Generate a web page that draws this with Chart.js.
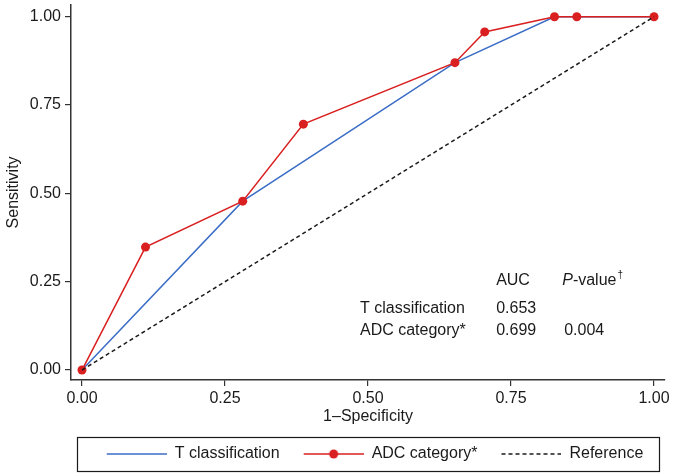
<!DOCTYPE html>
<html>
<head>
<meta charset="utf-8">
<script src="https://cdn.jsdelivr.net/npm/chart.js@4/dist/chart.umd.min.js"></script>
<style>
  html, body { margin: 0; padding: 0; background: #fff; }
</style>
</head>
<body>
<canvas id="roc" width="675" height="476"></canvas>
<script>
// ROC curves, values
const tClassX = [0, 0.281, 0.652, 0.826, 1];
const tClassY = [0, 0.478, 0.870, 1, 1];
const adcX = [0, 0.111, 0.281, 0.387, 0.652, 0.704, 0.826, 0.865, 1];
const adcY = [0, 0.348, 0.478, 0.696, 0.870, 0.957, 1, 1, 1];
const refX = [0, 1];
const refY = [0, 1];
const tickValues = [0, 0.25, 0.5, 0.75, 1];
const seriesNames = ["T classification", "ADC category*", "Reference"];
const tableHeader = ["AUC", "P", "-value", "†"];
const tableRows = [
    ["T classification", "0.653", ""],
    ["ADC category*", "0.699", "0.004"],
];

const blue = "#3b6dc6";
const red = "#d91f1f";
const dark = "#1a1a1a";
const fontFamily = "'Liberation Sans', Arial, Helvetica, sans-serif";

Chart.defaults.font.family = fontFamily;
Chart.defaults.font.size = 16;
Chart.defaults.color = dark;

function toPoints(xs, ys) {
    return xs.map((x, i) => ({ x: x, y: ys[i] }));
}

// little pictures for the legend keys
function legendKey(color, dashed, dot) {
    const c = document.createElement("canvas");
    c.width = 74;
    c.height = 16;
    const g = c.getContext("2d");
    g.strokeStyle = color;
    g.lineWidth = 1.5;
    if (dashed) g.setLineDash([4, 3]);
    g.beginPath();
    g.moveTo(14, 8);
    g.lineTo(74, 8);
    g.stroke();
    if (dot) {
        g.fillStyle = color;
        g.beginPath();
        g.arc(44, 8, 4.5, 0, Math.PI * 2);
        g.fill();
    }
    return c;
}
const legendKeys = [legendKey(blue, false, false), legendKey(red, false, true), legendKey(dark, true, false)];

const legendBox = {
    id: "legendBox",
    afterDraw(chart) {
        const a = chart.chartArea;
        const lg = chart.legend;
        const ctx = chart.ctx;
        ctx.save();
        ctx.strokeStyle = dark;
        ctx.lineWidth = 1.2;
        ctx.strokeRect(a.left + 6.5, lg.top + 1.5, a.right - a.left - 12, lg.bottom - lg.top - 2);
        ctx.restore();
    },
};

const aucTable = {
    id: "aucTable",
    afterDatasetsDraw(chart) {
        const xs = chart.scales.x;
        const ys = chart.scales.y;
        const ctx = chart.ctx;
        const colX = [0.486, 0.724, 0.843].map((v) => xs.getPixelForValue(v));
        const rowY = [0.2535, 0.1746, 0.1127].map((v) => ys.getPixelForValue(v));
        const f = "16px " + fontFamily;
        ctx.save();
        ctx.fillStyle = dark;
        ctx.textBaseline = "middle";
        ctx.textAlign = "left";
        ctx.font = f;
        ctx.fillText(tableHeader[0], colX[1], rowY[0]);
        // italic P, upright rest, small raised dagger
        let x = colX[2] - 2;
        ctx.font = "italic " + f;
        ctx.fillText(tableHeader[1], x, rowY[0]);
        x += ctx.measureText(tableHeader[1]).width;
        ctx.font = f;
        ctx.fillText(tableHeader[2], x, rowY[0]);
        x += ctx.measureText(tableHeader[2]).width + 1;
        ctx.font = "10px " + fontFamily;
        ctx.fillText(tableHeader[3], x, rowY[0] - 5);
        ctx.font = f;
        tableRows.forEach((row, i) => {
            row.forEach((txt, j) => {
                if (txt) ctx.fillText(txt, colX[j], rowY[i + 1]);
            });
        });
        ctx.restore();
    },
};

new Chart(document.getElementById("roc"), {
    type: "line",
    data: {
        datasets: [
            {
                label: seriesNames[0],
                data: toPoints(tClassX, tClassY),
                borderColor: blue,
                backgroundColor: blue,
                borderWidth: 1.5,
                pointRadius: 0,
                order: 3,
            },
            {
                label: seriesNames[1],
                data: toPoints(adcX, adcY),
                borderColor: red,
                backgroundColor: red,
                borderWidth: 1.5,
                pointRadius: 4.5,
                pointBorderWidth: 0,
                pointBackgroundColor: red,
                order: 2,
            },
            {
                label: seriesNames[2],
                data: toPoints(refX, refY),
                borderColor: dark,
                borderWidth: 1.5,
                borderDash: [4, 3],
                pointRadius: 0,
                order: 1,
            },
        ],
    },
    options: {
        responsive: false,
        animation: false,
        clip: false,
        layout: { padding: { top: 3, right: 10, bottom: 4, left: 0 } },
        scales: {
            x: {
                type: "linear",
                min: -0.0192,
                max: 1.0192,
                afterBuildTicks: (scale) => {
                    scale.ticks = tickValues.map((v) => ({ value: v }));
                },
                afterFit: (scale) => {
                    scale.height = 56;
                },
                ticks: {
                    padding: 3,
                    maxRotation: 0,
                    callback: (v) => Number(v).toFixed(2),
                },
                grid: { drawOnChartArea: false, tickLength: 6, color: "#333", lineWidth: 1.2 },
                border: { display: true, color: "#333", width: 1.5 },
                title: { display: true, text: "1\u2013Specificity", padding: { top: 0, bottom: 10 } },
            },
            y: {
                type: "linear",
                min: -0.0282,
                max: 1.0338,
                afterBuildTicks: (scale) => {
                    scale.ticks = tickValues.map((v) => ({ value: v }));
                },
                afterFit: (scale) => {
                    scale.width = 71;
                },
                ticks: {
                    padding: 4,
                    font: { size: 16, lineHeight: 0.1 },
                    callback: (v) => Number(v).toFixed(2),
                },
                grid: { drawOnChartArea: false, tickLength: 6, color: "#333", lineWidth: 1.2 },
                border: { display: true, color: "#333", width: 1.5 },
                title: { display: true, text: "Sensitivity", padding: { top: 4, bottom: 0 } },
            },
        },
        plugins: {
            tooltip: { enabled: false },
            legend: {
                position: "bottom",
                fullSize: false,
                labels: {
                    usePointStyle: true,
                    pointStyleWidth: 74,
                    boxHeight: 16,
                    padding: 10,
                    color: dark,
                    font: { size: 16 },
                    generateLabels: (chart) =>
                        chart.data.datasets.map((ds, i) => ({
                            text: ds.label,
                            pointStyle: legendKeys[i],
                            fillStyle: ds.borderColor,
                            strokeStyle: ds.borderColor,
                            lineWidth: 0,
                            hidden: false,
                            datasetIndex: i,
                            fontColor: dark,
                        })),
                },
            },
        },
    },
    plugins: [legendBox, aucTable],
});
</script>
</body>
</html>
